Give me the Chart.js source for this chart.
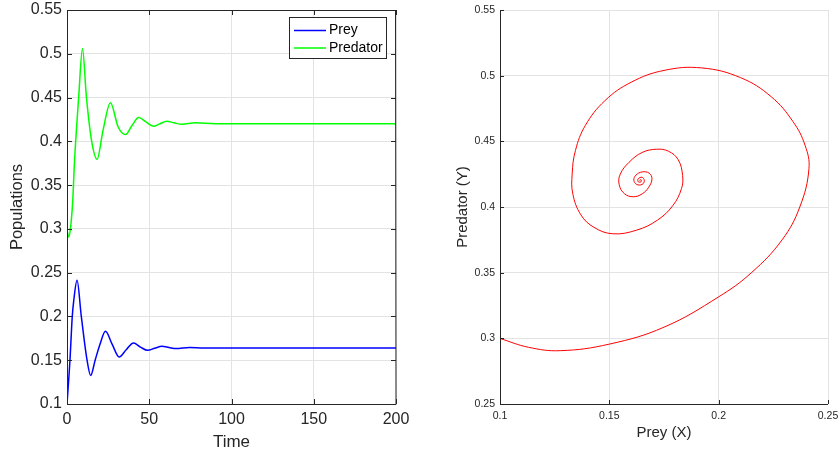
<!DOCTYPE html>
<html>
<head>
<meta charset="utf-8">
<script src="https://cdn.jsdelivr.net/npm/chart.js@4.4.1/dist/chart.umd.min.js"></script>
<style>
  body { margin: 0; background: #fff; }
  .panel { position: absolute; top: 0; }
</style>
</head>
<body>
<div class="panel" style="left:0"><canvas id="timeChart" width="410" height="458"></canvas></div>
<div class="panel" style="left:420px"><canvas id="phaseChart" width="418" height="458"></canvas></div>
<script>
// left panel: populations over time
let preyTime = [0, 1.8, 3.2, 4.1, 6.1, 8.7, 12.2, 14.4, 17.1, 20.0, 23.4, 27.5, 31.7, 36.0, 40.4, 44.7, 49.0, 53.3, 57.7, 62.0, 66.2, 74.5, 83, 95, 200];
let preyValues = [0.1, 0.15, 0.2, 0.218, 0.2413, 0.2, 0.15, 0.1326, 0.15, 0.168, 0.1831, 0.168, 0.1537, 0.162, 0.1697, 0.165, 0.1613, 0.1636, 0.1659, 0.1646, 0.1633, 0.1645, 0.1639, 0.164, 0.164];

let predTime = [0, 1.0, 2.2, 3.5, 4.5, 5.7, 7.1, 9.4, 11.8, 14.9, 18.3, 21.9, 26.4, 31.1, 35.6, 39.5, 43.5, 48.0, 52.4, 56.5, 60.7, 65.0, 69.7, 78, 90, 200];
let predValues = [0.2992, 0.2907, 0.302, 0.3327, 0.3746, 0.4126, 0.4506, 0.5059, 0.4506, 0.4012, 0.3795, 0.4126, 0.4442, 0.4164, 0.4077, 0.418, 0.4271, 0.4222, 0.4172, 0.42, 0.4229, 0.4212, 0.4195, 0.4212, 0.4202, 0.4202];

// right panel: phase portrait, prey (x) vs predator (y)
let phaseX = [0.1, 0.113, 0.1275, 0.15, 0.175, 0.2, 0.215, 0.229, 0.2371, 0.2413, 0.2395, 0.234, 0.224, 0.21, 0.1922, 0.175, 0.16, 0.148, 0.139, 0.1345, 0.133, 0.1333, 0.137, 0.143, 0.1516, 0.1625, 0.172, 0.179, 0.183, 0.1835, 0.1815, 0.177, 0.1717, 0.165, 0.159, 0.155, 0.1545, 0.157, 0.161, 0.165, 0.168, 0.1695, 0.1682, 0.165, 0.1622, 0.1612, 0.1625, 0.165, 0.166, 0.165, 0.1632, 0.1632, 0.1645, 0.1645, 0.1638];
let phaseY = [0.2999, 0.2932, 0.2906, 0.2956, 0.3085, 0.3316, 0.35, 0.375, 0.4, 0.4293, 0.447, 0.465, 0.484, 0.4985, 0.5059, 0.504, 0.495, 0.481, 0.462, 0.443, 0.425, 0.41, 0.394, 0.3845, 0.3796, 0.3824, 0.39, 0.401, 0.414, 0.424, 0.436, 0.4425, 0.444, 0.4415, 0.434, 0.425, 0.417, 0.41, 0.4078, 0.41, 0.415, 0.4215, 0.4258, 0.4267, 0.4243, 0.4205, 0.4172, 0.4172, 0.42, 0.4226, 0.4215, 0.4192, 0.4192, 0.4208, 0.4203];

// tick labels
let timeTicks = [0, 50, 100, 150, 200];
let popTicks = [0.1, 0.15, 0.2, 0.25, 0.3, 0.35, 0.4, 0.45, 0.5, 0.55];
let preyTicks = [0.1, 0.15, 0.2, 0.25];
let predTicks = [0.25, 0.3, 0.35, 0.4, 0.45, 0.5, 0.55];

Chart.defaults.font.family = "'Liberation Sans', Arial, Helvetica, sans-serif";
Chart.defaults.color = "#262626";

let axisColor = "#262626";
let gridColor = "#e3e3e3";
let fmt = (v) => String(+Number(v).toFixed(2));
let setTicks = (list) => (scale) => {
  scale.ticks = list.map((v) => ({ value: v }));
};
//fixed axis box sizes, no extra room for overhanging labels
let fitX = (s) => { s.height = 54; s.paddingLeft = 0; s.paddingRight = 0; };
let fitY = (w) => (s) => { s.width = w; s.paddingTop = 0; s.paddingBottom = 0; };

//axis lines and inward tick marks, matlab style
let frame = {
  id: "frame",
  afterDraw(chart, args, opts) {
    let { ctx, chartArea: a, scales } = chart;
    let len = opts.len || 4;
    ctx.save();
    ctx.strokeStyle = axisColor;
    ctx.lineWidth = 1;
    ctx.beginPath();
    ctx.moveTo(a.left + 0.5, a.top);
    ctx.lineTo(a.left + 0.5, a.bottom + 0.5);
    ctx.lineTo(a.right, a.bottom + 0.5);
    if (opts.box) {
      ctx.lineTo(a.right - 0.5, a.top + 0.5);
      ctx.lineTo(a.left + 0.5, a.top + 0.5);
    }
    scales.x.ticks.forEach((t) => {
      let px = Math.round(scales.x.getPixelForValue(t.value)) + 0.5;
      ctx.moveTo(px, a.bottom);
      ctx.lineTo(px, a.bottom - len);
      if (opts.box) {
        ctx.moveTo(px, a.top);
        ctx.lineTo(px, a.top + len);
      }
    });
    scales.y.ticks.forEach((t) => {
      let py = Math.round(scales.y.getPixelForValue(t.value)) + 0.5;
      ctx.moveTo(a.left, py);
      ctx.lineTo(a.left + len, py);
      if (opts.box) {
        ctx.moveTo(a.right, py);
        ctx.lineTo(a.right - len, py);
      }
    });
    ctx.stroke();
    ctx.restore();
  },
};

//boxed legend in the upper right corner
let boxLegend = {
  id: "boxLegend",
  afterDraw(chart) {
    let { ctx, chartArea: a } = chart;
    let w = 98, h = 42;
    let left = Math.round(a.right - 9 - w);
    let top = Math.round(a.top + 7);
    ctx.save();
    ctx.fillStyle = "#ffffff";
    ctx.fillRect(left, top, w, h);
    ctx.strokeStyle = axisColor;
    ctx.lineWidth = 1;
    ctx.strokeRect(left + 0.5, top + 0.5, w - 1, h - 1);
    ctx.font = "14px 'Liberation Sans', Arial, Helvetica, sans-serif";
    ctx.textBaseline = "middle";
    chart.data.datasets.forEach((ds, i) => {
      let y = top + 13.5 + i * 17.5;
      ctx.strokeStyle = ds.borderColor;
      ctx.lineWidth = 1.5;
      ctx.beginPath();
      ctx.moveTo(left + 5, y);
      ctx.lineTo(left + 37, y);
      ctx.stroke();
      ctx.fillStyle = "#000000";
      ctx.fillText(ds.label, left + 40, y);
    });
    ctx.restore();
  },
};

let timeChart = new Chart(document.getElementById("timeChart"), {
  type: "line",
  data: {
    datasets: [
      {
        label: "Prey",
        data: preyTime.map((t, i) => ({ x: t, y: preyValues[i] })),
        borderColor: "#0000ff",
        borderWidth: 1.5,
        pointRadius: 0,
        cubicInterpolationMode: "monotone",
      },
      {
        label: "Predator",
        data: predTime.map((t, i) => ({ x: t, y: predValues[i] })),
        borderColor: "#00ff00",
        borderWidth: 1.5,
        pointRadius: 0,
        cubicInterpolationMode: "monotone",
      },
    ],
  },
  plugins: [frame, boxLegend],
  options: {
    responsive: false,
    animation: false,
    layout: { padding: { top: 10, right: 14, left: 0, bottom: 0 } },
    plugins: {
      legend: { display: false },
      tooltip: { enabled: false },
      frame: { box: true, len: 5 },
    },
    scales: {
      x: {
        type: "linear",
        min: 0,
        max: 200,
        afterBuildTicks: setTicks(timeTicks),
        afterFit: fitX,
        grid: { color: gridColor, drawTicks: false },
        border: { display: false },
        ticks: { padding: 6, font: { size: 16 }, callback: fmt, maxRotation: 0 },
        title: { display: true, text: "Time", font: { size: 17 }, padding: { top: 0, bottom: 5 } },
      },
      y: {
        min: 0.1,
        max: 0.55,
        afterBuildTicks: setTicks(popTicks),
        afterFit: fitY(67),
        grid: { color: gridColor, drawTicks: false },
        border: { display: false },
        ticks: { padding: 5, font: { size: 16 }, callback: fmt },
        title: { display: true, text: "Populations", font: { size: 16.5 }, padding: { top: 8, bottom: 0 } },
      },
    },
  },
});

let phaseChart = new Chart(document.getElementById("phaseChart"), {
  type: "scatter",
  data: {
    datasets: [
      {
        label: "Trajectory",
        data: phaseX.map((x, i) => ({ x: x, y: phaseY[i] })),
        showLine: true,
        borderColor: "#ff0000",
        borderWidth: 1,
        pointRadius: 0,
        tension: 0.4,
      },
    ],
  },
  plugins: [frame],
  options: {
    responsive: false,
    animation: false,
    layout: { padding: { top: 10, right: 10, left: 0, bottom: 0 } },
    plugins: {
      legend: { display: false },
      tooltip: { enabled: false },
      frame: { box: false, len: 4 },
    },
    scales: {
      x: {
        type: "linear",
        min: 0.1,
        max: 0.25,
        afterBuildTicks: setTicks(preyTicks),
        afterFit: fitX,
        grid: { color: gridColor, drawTicks: false },
        border: { display: false },
        ticks: { padding: 6, font: { size: 10.5 }, callback: fmt, maxRotation: 0 },
        title: { display: true, text: "Prey (X)", font: { size: 15 }, padding: { top: 0, bottom: 16 } },
      },
      y: {
        min: 0.25,
        max: 0.55,
        afterBuildTicks: setTicks(predTicks),
        afterFit: fitY(80),
        grid: { color: gridColor, drawTicks: false },
        border: { display: false },
        ticks: { padding: 5, font: { size: 10.5 }, callback: fmt },
        title: { display: true, text: "Predator (Y)", font: { size: 15 }, padding: { top: 34, bottom: 0 } },
      },
    },
  },
});
</script>
</body>
</html>
